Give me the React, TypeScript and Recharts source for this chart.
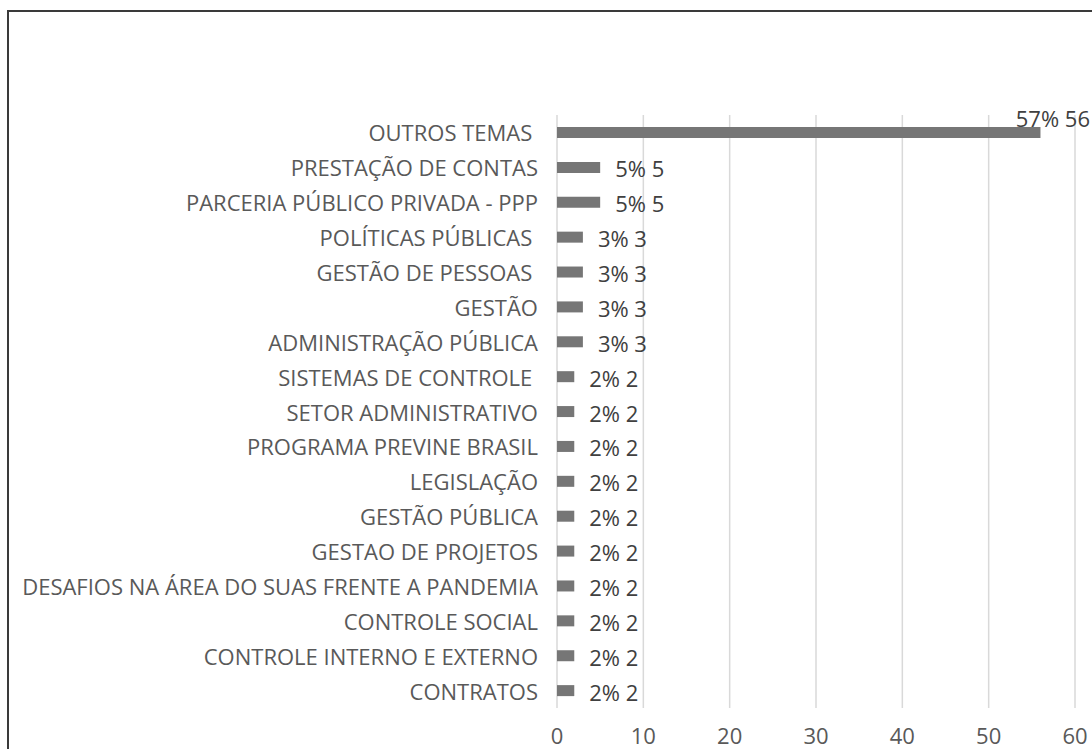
import React from "react";
import { BarChart, Bar, XAxis, YAxis, CartesianGrid, LabelList } from "recharts";

const categories = [
  "OUTROS TEMAS ",
  "PRESTAÇÃO DE CONTAS",
  "PARCERIA PÚBLICO PRIVADA - PPP",
  "POLÍTICAS PÚBLICAS ",
  "GESTÃO DE PESSOAS ",
  "GESTÃO",
  "ADMINISTRAÇÃO PÚBLICA",
  "SISTEMAS DE CONTROLE ",
  "SETOR ADMINISTRATIVO",
  "PROGRAMA PREVINE BRASIL",
  "LEGISLAÇÃO",
  "GESTÃO PÚBLICA",
  "GESTAO DE PROJETOS",
  "DESAFIOS NA ÁREA DO SUAS FRENTE A PANDEMIA",
  "CONTROLE SOCIAL",
  "CONTROLE INTERNO E EXTERNO",
  "CONTRATOS",
];

const values = [56, 5, 5, 3, 3, 3, 3, 2, 2, 2, 2, 2, 2, 2, 2, 2, 2];

const xTicks = [0, 10, 20, 30, 40, 50, 60];

const total = values.reduce((a, b) => a + b, 0);
const data = categories.map((name, i) => ({ name, value: values[i] }));

const FONT = "'Open Sans', sans-serif";

const YTick = (props: any) => {
  const { x, y, payload } = props;
  return (
    <text
      x={x}
      y={y}
      textAnchor="end"
      dominantBaseline="central"
      fill="#595959"
      fontSize={22}
      fontFamily={FONT}
      style={{ whiteSpace: "pre" }}
    >
      {payload.value}
    </text>
  );
};

const ValueLabel = (props: any) => {
  const { x, y, width, height, value } = props;
  const txt = `${Math.round((value / total) * 100)}% ${value}`;
  const end = x + width;
  const est = txt.length * 12.5;
  const cy = y + height / 2;
  if (end + 15 + est > 1092) {
    return (
      <text x={1090} y={cy - 15} textAnchor="end" dominantBaseline="central" fill="#404040" fontSize={22} fontFamily={FONT}>
        {txt}
      </text>
    );
  }
  return (
    <text x={end + 15} y={cy + 1} textAnchor="start" dominantBaseline="central" fill="#404040" fontSize={22} fontFamily={FONT}>
      {txt}
    </text>
  );
};

export default function App() {
  return (
    <div style={{ position: "absolute", left: 0, top: 0, width: 1092, height: 749, overflow: "hidden", background: "#fff" }}>
      <div
        style={{
          position: "absolute",
          left: 7,
          top: 10,
          width: 1085,
          height: 739,
          borderLeft: "2px solid #3a3a3a",
          borderTop: "2px solid #3a3a3a",
          boxSizing: "border-box",
        }}
      />
      <div style={{ position: "absolute", left: 0, top: 0 }}>
        <BarChart
          width={1092}
          height={749}
          data={data}
          layout="vertical"
          margin={{ top: 115, right: 17, bottom: 0, left: 0 }}
        >
          <CartesianGrid horizontal={false} stroke="#d9d9d9" strokeWidth={1.5} />
          <XAxis
            type="number"
            domain={[0, 60]}
            ticks={xTicks}
            axisLine={false}
            tickLine={false}
            tickSize={0}
            tickMargin={20}
            height={41}
            interval={0}
            tick={{ fill: "#595959", fontSize: 22, fontFamily: FONT }}
          />
          <YAxis
            type="category"
            dataKey="name"
            width={557}
            axisLine={false}
            tickLine={false}
            tickSize={0}
            tickMargin={19}
            interval={0}
            tick={<YTick />}
          />
          <Bar dataKey="value" fill="#767676" barSize={11} isAnimationActive={false}>
            <LabelList dataKey="value" content={<ValueLabel />} />
          </Bar>
        </BarChart>
      </div>
    </div>
  );
}
